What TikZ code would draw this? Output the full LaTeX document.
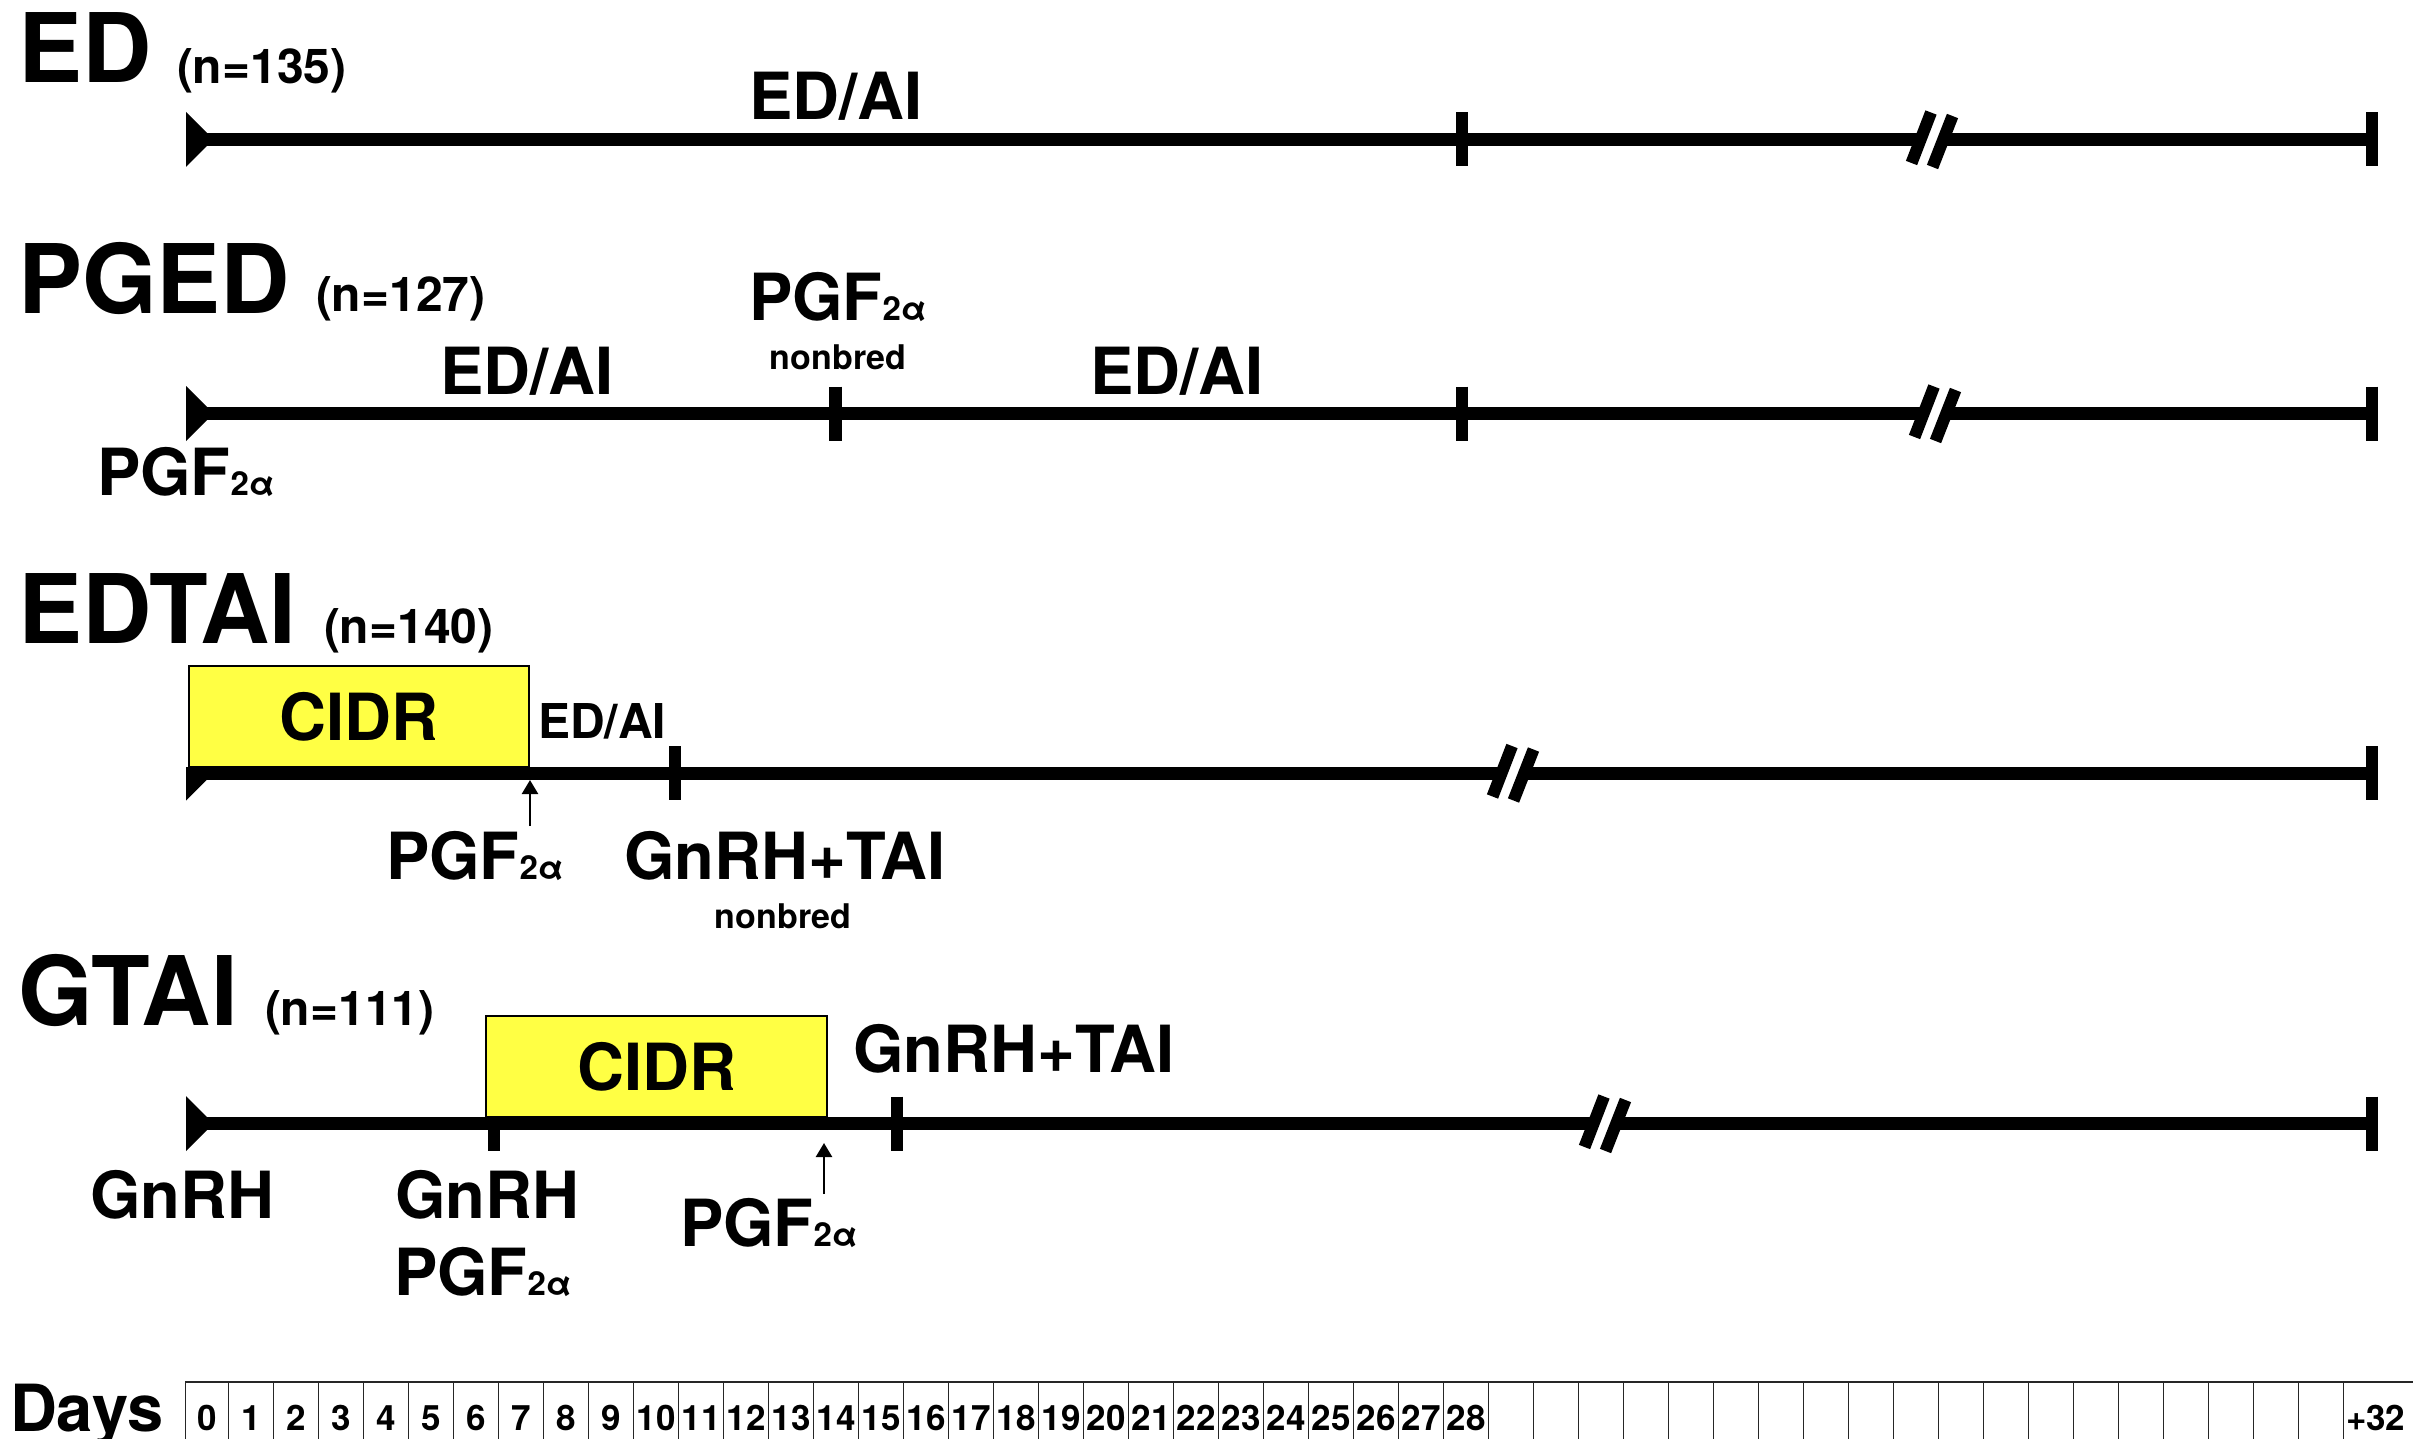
\documentclass[tikz,border=0pt]{standalone}
\usepackage{fontspec}
\setmainfont{TeX Gyre Heros}
\usetikzlibrary{arrows.meta}
\definecolor{cidryellow}{HTML}{FFFF44}
\newcommand\myfs[1]{\fontsize{#1}{#1}\selectfont\bfseries}
\newcommand\PGFlab{PGF{\myfs{33}2α}}
\begin{document}
\begin{tikzpicture}[x=1pt,y=-1pt,
  every node/.style={inner sep=0pt,outer sep=0pt},
  ttl/.style={anchor=base west,font=\myfs{96}},
  ncount/.style={anchor=base west,font=\myfs{48}},
  lab/.style={anchor=base west,font=\myfs{65}},
  smalllab/.style={anchor=base west,font=\myfs{48}},
  nbred/.style={anchor=base,font=\myfs{34}},
  dnum/.style={anchor=base,font=\myfs{35}},
  tline/.style={line width=13pt},
  tk/.style={line width=12.5pt},
  cidrbox/.style={draw,line width=2pt,fill=cidryellow,font=\myfs{65}},
  pgfarrow/.style={line width=2.5pt,-{Triangle[width=16pt,length=14pt]}},
  gridline/.style={line width=1.3pt,black!85},
  pics/brk/.style={code={
    \fill[white] (-20.5,23.5)--(-1,-27)--(20.5,-23.5)--(0.5,27.5)--cycle;
    \draw[line width=12pt] (-20.5,23.5)--(-1,-27) (0.5,27.5)--(20.5,-23.5);
  }},
  pics/starttri/.style={code={
    \fill (0,-27.5)--(0,27.5)--(27.5,0)--cycle;
  }}
]
\useasboundingbox (0,0) rectangle (2413,1439);

% ---------------- ED ----------------
\coordinate (ed0) at (186,139.5);
\coordinate (edt) at (1462,139.5);
\coordinate (edb) at (1932,139.5);
\coordinate (ede) at (2372,139.5);
\draw[tline] (ed0) -- (ede);
\pic at (ed0) {starttri};
\draw[tk] ([yshift=27pt]edt) -- ([yshift=-27pt]edt);
\draw[tk] ([yshift=27pt]ede) -- ([yshift=-27pt]ede);
\pic at (edb) {brk};
\node[ttl] (edT) at (18,83) {ED};
\node[ncount] (edN) at (177,84) {(n=135)};
\node[lab] (edL) at (749,120) {ED/AI};

% ---------------- PGED ----------------
\coordinate (pg0) at (186,413.5);
\coordinate (pgt1) at (835.5,413.5);
\coordinate (pgt2) at (1462,413.5);
\coordinate (pgb) at (1935,413.5);
\coordinate (pge) at (2372,413.5);
\draw[tline] (pg0) -- (pge);
\pic at (pg0) {starttri};
\foreach \c in {pgt1,pgt2,pge} \draw[tk] ([yshift=27pt]\c) -- ([yshift=-27pt]\c);
\pic at (pgb) {brk};
\node[ttl] (pgT) at (18,314) {PGED};
\node[ncount] (pgN) at (316,312) {(n=127)};
\node[lab] (pgP1) at (749,321) {\PGFlab};
\node[nbred] (pgNB) at (838,370) {nonbred};
\node[lab] (pgL1) at (440,394) {ED/AI};
\node[lab] (pgL2) at (1090,394) {ED/AI};
\node[lab] (pgP0) at (97,495) {\PGFlab};

% ---------------- EDTAI ----------------
\coordinate (et0) at (186,773);
\coordinate (ett) at (675,773);
\coordinate (etb) at (1513,773);
\coordinate (ete) at (2372,773);
\draw[tline] (et0) -- (ete);
\fill (186,773)--(186,800.5)--(213.5,773)--cycle;
\foreach \c in {ett,ete} \draw[tk] ([yshift=27pt]\c) -- ([yshift=-27pt]\c);
\pic at (etb) {brk};
\node[cidrbox,minimum width=339.6pt,minimum height=101pt] (etC) at (359.2,716.5) {CIDR};
\coordinate (etAf) at (530,826);
\coordinate (etAt) at (530,780);
\draw[pgfarrow] (etAf) -- (etAt);
\node[ttl] (etT) at (18,643) {EDTAI};
\node[ncount] (etN) at (324,643) {(n=140)};
\node[smalllab] (etL) at (538,738) {ED/AI};
\node[lab] (etP) at (386,879) {\PGFlab};
\node[lab] (etG) at (624,879) {GnRH+TAI};
\node[nbred] (etNB) at (783,928) {nonbred};

% ---------------- GTAI ----------------
\coordinate (gt0) at (186,1123.5);
\coordinate (gtt1) at (494,1123.5);
\coordinate (gtt2) at (897,1123.5);
\coordinate (gtb) at (1605,1123.5);
\coordinate (gte) at (2372,1123.5);
\draw[tline] (gt0) -- (gte);
\pic at (gt0) {starttri};
\foreach \c in {gtt1,gtt2,gte} \draw[tk] ([yshift=27pt]\c) -- ([yshift=-27pt]\c);
\pic at (gtb) {brk};
\node[cidrbox,minimum width=341pt,minimum height=101pt] (gtC) at (656.5,1066.5) {CIDR};
\coordinate (gtAf) at (824,1194);
\coordinate (gtAt) at (824,1143);
\draw[pgfarrow] (gtAf) -- (gtAt);
\node[ttl] (gtT) at (18,1025) {GTAI};
\node[ncount] (gtN) at (265,1025) {(n=111)};
\node[lab] (gtG1) at (853,1072) {GnRH+TAI};
\node[lab] (gtG0) at (90,1218) {GnRH};
\node[lab] (gtG2) at (395,1218) {GnRH};
\node[lab] (gtP2) at (394,1295) {\PGFlab};
\node[lab] (gtP3) at (680,1246) {\PGFlab};

% ---------------- Days ----------------
\node[anchor=base west,font=\myfs{65}] (days) at (10,1431) {Days};
\draw[gridline] (185.3,1382) -- (2413,1382);
\draw[gridline] (185.3,1382) -- (185.3,1445);
\foreach \k in {0,...,47} \draw[gridline] ({228.7+45*\k},1382) -- ({228.7+45*\k},1445);
\node[dnum] (d0) at (207,1430) {0};
\foreach \d in {1,...,28} \node[dnum] (d\d) at ({206.2+45*\d},1430) {\d};
\node[dnum,anchor=base west] (d32) at (2346,1430) {+32};
\end{tikzpicture}
\end{document}
